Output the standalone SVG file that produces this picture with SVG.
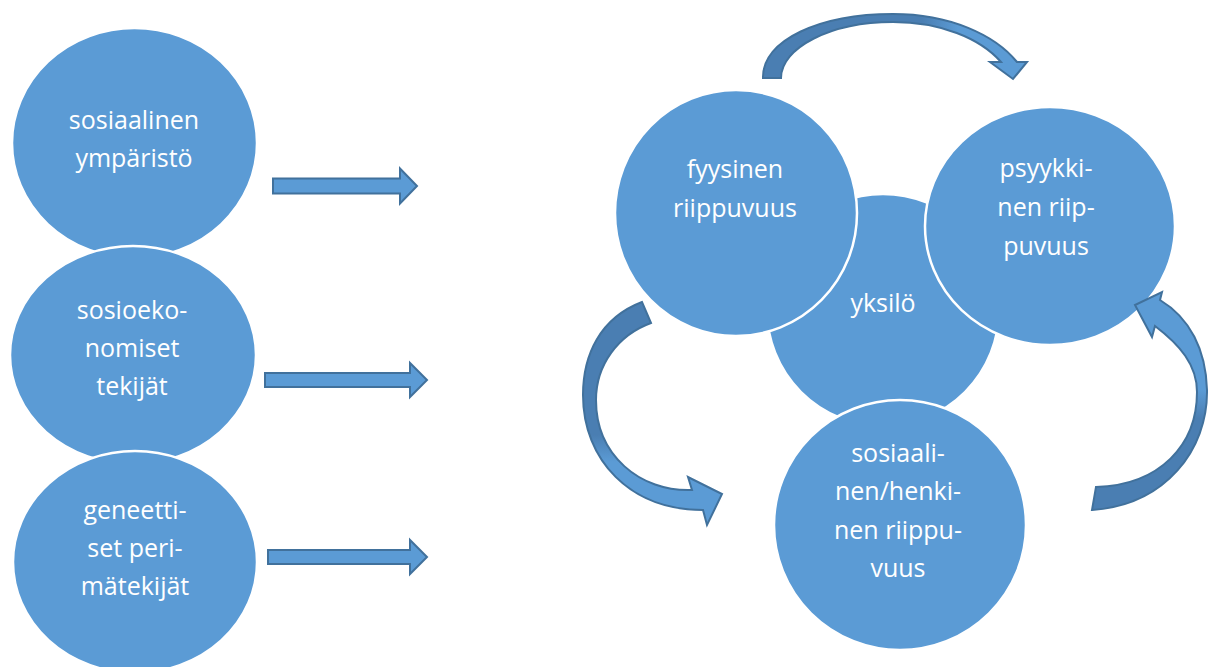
<svg xmlns="http://www.w3.org/2000/svg" width="1211" height="667" viewBox="0 0 1211 667">
<defs>
<style>
.c{fill:#5B9BD5;stroke:#FFFFFF;stroke-width:2.5}
.a{fill:#5B9BD5;stroke:#41719C;stroke-width:2;stroke-linejoin:miter}
.t{font-family:"Open Sans","Noto Sans",sans-serif;font-size:25px;fill:#FFFFFF;text-anchor:middle}
</style>
<linearGradient id="gTop" gradientUnits="userSpaceOnUse" x1="763" y1="0" x2="1027" y2="0">
<stop offset="0" stop-color="#4A7EB2"/><stop offset="0.6" stop-color="#4A7EB2"/><stop offset="0.74" stop-color="#5B9BD5"/><stop offset="1" stop-color="#5B9BD5"/>
</linearGradient>
<linearGradient id="gLeft" gradientUnits="userSpaceOnUse" x1="0" y1="300" x2="0" y2="525">
<stop offset="0" stop-color="#4A7EB2"/><stop offset="0.6" stop-color="#4A7EB2"/><stop offset="0.72" stop-color="#5B9BD5"/><stop offset="1" stop-color="#5B9BD5"/>
</linearGradient>
<linearGradient id="gRight" gradientUnits="userSpaceOnUse" x1="0" y1="292" x2="0" y2="510">
<stop offset="0" stop-color="#5B9BD5"/><stop offset="0.45" stop-color="#5B9BD5"/><stop offset="0.58" stop-color="#4A7EB2"/><stop offset="1" stop-color="#4A7EB2"/>
</linearGradient>
</defs>
<rect width="1211" height="667" fill="#FFFFFF"/>

<g id="n-sosiaalinen-ymparisto">
<ellipse class="c" cx="134.5" cy="143" rx="122.5" ry="115"/>
<text class="t" x="134" y="129">sosiaalinen</text>
<text class="t" x="134" y="167">ympäristö</text>
</g>
<g id="n-sosioekonomiset">
<ellipse class="c" cx="133" cy="355" rx="123" ry="109"/>
<text class="t" x="132" y="319">sosioeko-</text>
<text class="t" x="132" y="357">nomiset</text>
<text class="t" x="132" y="395">tekijät</text>
</g>
<g id="n-geneettiset">
<ellipse class="c" cx="135" cy="562" rx="122" ry="111"/>
<text class="t" x="135" y="519">geneetti-</text>
<text class="t" x="135" y="557">set peri-</text>
<text class="t" x="135" y="595">mätekijät</text>
</g>

<g id="n-yksilo">
<circle class="c" cx="883" cy="310" r="116"/>
<text class="t" x="883" y="312">yksilö</text>
</g>
<g id="n-fyysinen">
<ellipse class="c" cx="736" cy="213" rx="121" ry="123"/>
<text class="t" x="735" y="178">fyysinen</text>
<text class="t" x="735" y="217">riippuvuus</text>
</g>
<g id="n-psyykkinen">
<ellipse class="c" cx="1050" cy="226" rx="125" ry="119"/>
<text class="t" x="1046" y="177">psyykki-</text>
<text class="t" x="1046" y="216">nen riip-</text>
<text class="t" x="1046" y="255">puvuus</text>
</g>
<g id="n-sosiaalinen-henkinen">
<ellipse class="c" cx="900" cy="525" rx="126" ry="125"/>
<text class="t" x="898" y="462">sosiaali-</text>
<text class="t" x="898" y="500">nen/henki-</text>
<text class="t" x="898" y="539">nen riippu-</text>
<text class="t" x="898" y="577">vuus</text>
</g>

<g id="connectors">
<path class="a" d="M273 178.5 H400 V168.5 L417 186 L400 203.5 V193.5 H273 Z"/>
<path class="a" d="M265 373 H410 V363 L427 380 L410 397 V387 H265 Z"/>
<path class="a" d="M268 550 H410 V540 L427 557 L410 574 V564 H268 Z"/>
<path class="a" style="fill:url(#gTop)" d="M763 78 C762 40 820 14 893 14 C950 14 995 35 1017 62 L1027 62 L1013 79 L990 62 L1001 62 C980 38 940 22 893 22 C830 22 781 48 781 78 Z"/>
<path class="a" style="fill:url(#gLeft)" d="M642 302 C600 318 583 355 583 395 C583 460 630 510 703 510 L707 525 L722 494 L688 477 L692 490 C640 492 596 455 596 400 C596 365 618 335 651 323 Z"/>
<path class="a" style="fill:url(#gRight)" d="M1092 510 C1165 505 1208 450 1207 390 C1206 350 1190 318 1160 300 L1162 292 L1135 305 L1152 337 L1155 326 C1180 345 1197 365 1197 392 C1197 445 1160 485 1096 487 Z"/>
</g>
</svg>
